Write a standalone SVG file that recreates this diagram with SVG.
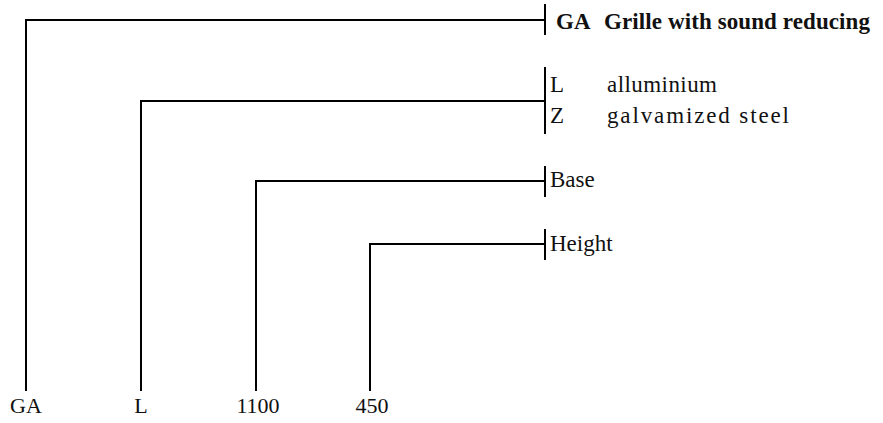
<svg xmlns="http://www.w3.org/2000/svg" width="883" height="423" viewBox="0 0 883 423">
  <style>
    .ln { fill: none; stroke: #000; stroke-width: 2; }
    .tk { fill: none; stroke: #000; stroke-width: 2; }
    text { font-family: "Liberation Serif", "DejaVu Serif", serif; font-size: 23px; fill: #111; }
    .code { font-size: 22px; text-anchor: middle; }
    .b { font-weight: bold; }
  </style>
  <rect width="883" height="423" fill="#fff"/>

  <!-- leader lines from each code position up to its legend -->
  <g id="connectors">
    <path class="ln" d="M26,391 V20 H545"/>
    <path class="ln" d="M141,391 V101 H545"/>
    <path class="ln" d="M256,391 V181 H545"/>
    <path class="ln" d="M370,391 V244 H545"/>
    <line class="tk" x1="545" y1="4" x2="545" y2="35"/>
    <line class="tk" x1="545" y1="67" x2="545" y2="134"/>
    <line class="tk" x1="545" y1="166" x2="545" y2="197"/>
    <line class="tk" x1="545" y1="229" x2="545" y2="260"/>
  </g>

  <!-- code positions -->
  <g id="code-ga"><text class="code" x="26" y="413">GA</text></g>
  <g id="code-l"><text class="code" x="141" y="413">L</text></g>
  <g id="code-base"><text class="code" x="258" y="413">1100</text></g>
  <g id="code-height"><text class="code" x="372" y="413">450</text></g>

  <!-- legends -->
  <g id="legend-type">
    <text class="b" x="556" y="29">GA</text>
    <text class="b" x="604" y="29" textLength="266" lengthAdjust="spacing">Grille with sound reducing</text>
  </g>
  <g id="legend-material">
    <text x="550" y="92">L</text>
    <text x="607" y="92" textLength="110" lengthAdjust="spacing">alluminium</text>
    <text x="550" y="123">Z</text>
    <text x="607" y="123" textLength="182" lengthAdjust="spacing">galvamized steel</text>
  </g>
  <g id="legend-base"><text x="550" y="187">Base</text></g>
  <g id="legend-height"><text x="550" y="251">Height</text></g>
</svg>
